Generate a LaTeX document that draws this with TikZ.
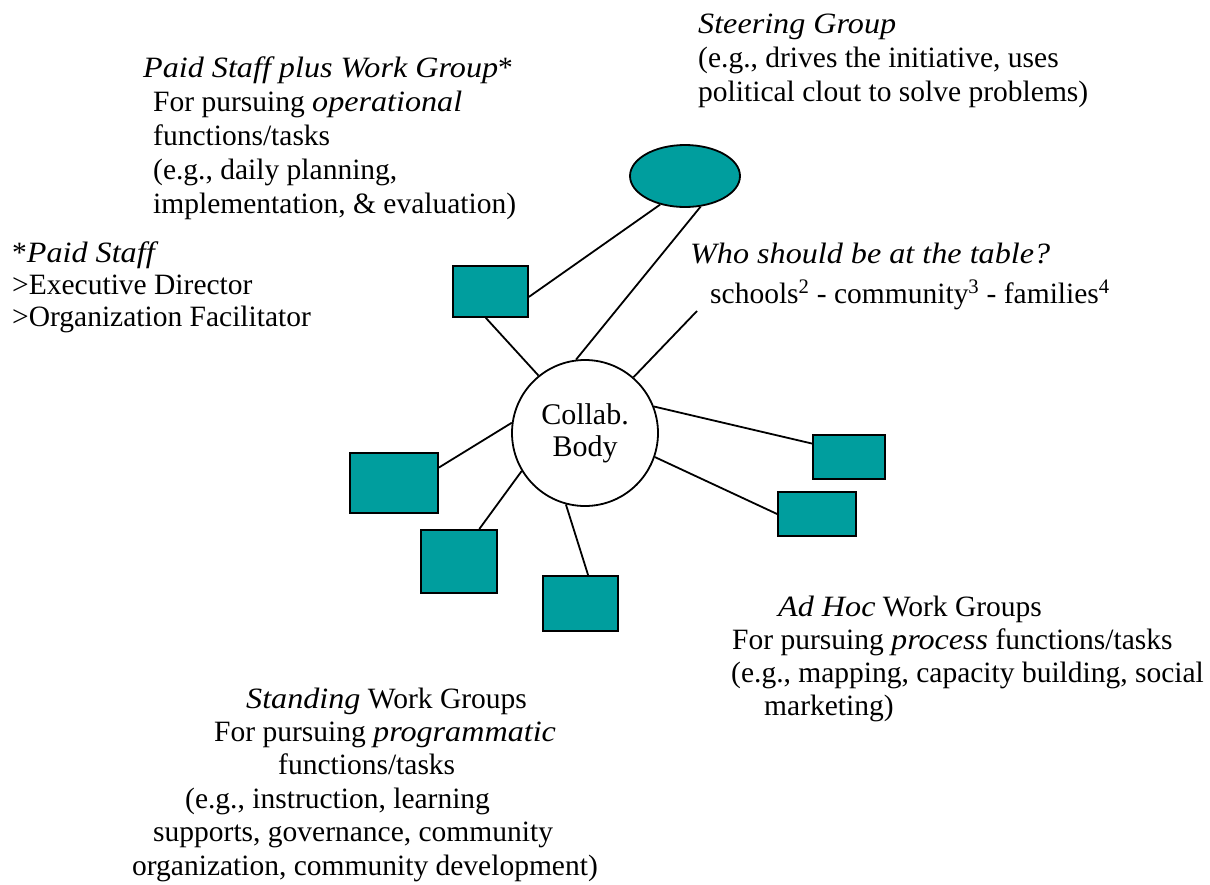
\documentclass[tikz,border=0pt]{standalone}
\usepackage{fontspec}
\setmainfont{Liberation Serif}[ItalicFeatures={FakeStretch=1.09}]
\usetikzlibrary{shapes.geometric}

\definecolor{groupteal}{RGB}{0,158,158}

\tikzset{
	grp/.style={draw, line width=1.8pt, fill=groupteal, inner sep=0pt},
	link/.style={line width=1.8pt},
	txt/.style={font=\fontsize{29.5}{34}\selectfont, align=left, inner sep=0pt, anchor=base west},
}

\begin{document}
\begin{tikzpicture}[x=1pt, y=-1pt]
	\useasboundingbox (0,0) rectangle (1210,884);
	
	% groups round the collaborative body
	\node[grp, ellipse, minimum width=110pt, minimum height=62pt] (steer) at (685,176) {};
	\node[grp, minimum width=75pt, minimum height=51pt] (paid) at (490.5,291.5) {};
	\node[grp, minimum width=88pt, minimum height=60pt] (stand1) at (394,483) {};
	\node[grp, minimum width=76pt, minimum height=63pt] (stand2) at (459,561.5) {};
	\node[grp, minimum width=75pt, minimum height=55pt] (stand3) at (580.5,603.5) {};
	\node[grp, minimum width=72pt, minimum height=44pt] (adhoc1) at (849,457) {};
	\node[grp, minimum width=78pt, minimum height=44pt] (adhoc2) at (817,514) {};
	\node[draw, circle, line width=1.8pt, minimum size=146pt, align=center,
		font=\fontsize{30}{32}\selectfont] (body) at (585,433) {\raisebox{6pt}{Collab.}\\\raisebox{6pt}{Body}};
	\coordinate (table) at (697,311);
	
	% links
	\draw[link] (paid.-8) -- (steer.229);
	\draw[link] (steer.297) -- (body.97);
	\draw[link] (paid.-100) -- (body.129);
	\draw[link] (table) -- (body.49);
	\draw[link] (body.21) -- (adhoc1.160);
	\draw[link] (body.341) -- (adhoc2.west);
	\draw[link] (body.172) -- (stand1.19);
	\draw[link] (body.211) -- (stand2.58);
	\draw[link] (body.255) -- (stand3.75);
	
	% texts (base = last line)
	\node[txt] (steertext) at (698,101) {\textit{Steering Group}\\(e.g., drives the initiative, uses\\political clout to solve problems)};
	\node[txt] (paidtext) at (143,213) {\textit{Paid Staff plus Work Group}*\\
		\hspace*{10pt}For pursuing \textit{operational}\\
		\hspace*{10pt}functions/tasks\\
		\hspace*{10pt}(e.g., daily planning,\\
		\hspace*{10pt}implementation, \& evaluation)};
	\node[txt, font=\fontsize{29.5}{32}\selectfont] (stafftext) at (12,326) {*\textit{Paid Staff}\\>Executive Director\\>Organization Facilitator};
	\node[txt, font=\fontsize{29.5}{40}\selectfont] (tabletext) at (690,303) {\textit{Who should be at the table?}\\
		\hspace*{20pt}schools\textsuperscript{2} - community\textsuperscript{3} - families\textsuperscript{4}};
	\node[txt, font=\fontsize{29.5}{33}\selectfont] (adhoctext) at (731,715) {\hspace*{47pt}\textit{Ad Hoc} Work Groups\\
		\hspace*{1pt}For pursuing \textit{process} functions/tasks\\
		(e.g., mapping, capacity building, social\\
		\hspace*{33pt}marketing)};
	\node[txt, font=\fontsize{29.5}{33.4}\selectfont] (standtext) at (132,875) {\hspace*{114pt}\textit{Standing} Work Groups\\
		\hspace*{82pt}For pursuing \textit{programmatic}\\
		\hspace*{146pt}functions/tasks\\
		\hspace*{53pt}(e.g., instruction, learning\\
		\hspace*{21pt}supports, governance, community\\
		organization, community development)};
\end{tikzpicture}
\end{document}
